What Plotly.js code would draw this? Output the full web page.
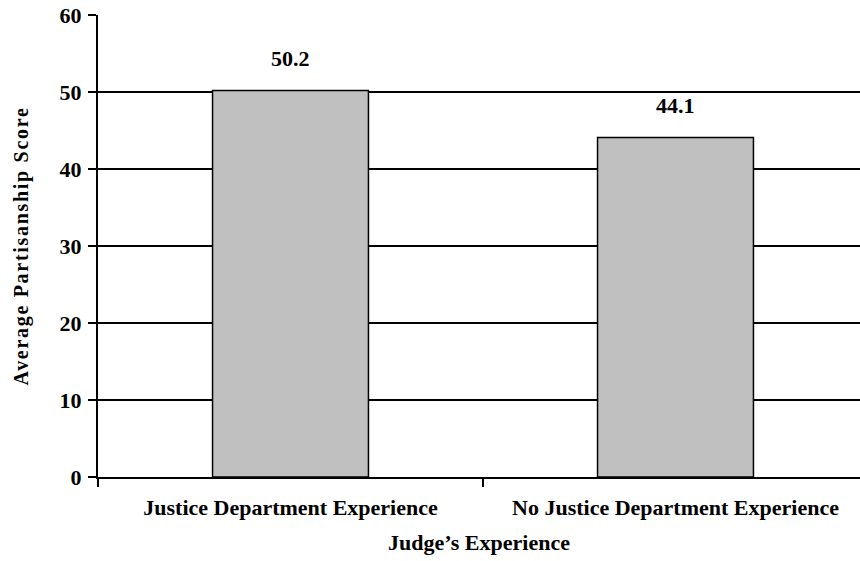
<!DOCTYPE html>
<html>
<head>
<meta charset="utf-8">
<script src="https://cdn.plot.ly/plotly-3.0.1.min.js"></script>
<style>html,body{margin:0;padding:0;background:#fff;}#chart{width:860px;height:561px;}
#chart .ytitle{letter-spacing:1.7px;}</style>
</head>
<body>
<div id="chart"></div>
<script>
const categories = ["Justice Department Experience", "No Justice Department Experience"];
const values = [50.2, 44.1];
const valueLabels = ["50.2", "44.1"];
const yTicks = [0, 10, 20, 30, 40, 50, 60];

const fam = "Liberation Serif, 'Times New Roman', serif";
const font = {family: fam, size: 22, color: "#000", weight: "bold"};

const trace = {
  type: "bar",
  x: categories,
  y: values,
  width: 0.405,
  marker: {color: "#c0c0c0", line: {color: "#000", width: 1.5}},
  hoverinfo: "none"
};

const annotations = categories.map((c, i) => ({
  x: c, y: values[i], xref: "x", yref: "y",
  text: valueLabels[i], showarrow: false, yshift: 32,
  font: font
}));

const layout = {
  width: 860, height: 561,
  margin: {l: 98, r: 0, t: 15, b: 84},
  paper_bgcolor: "#fff", plot_bgcolor: "#fff",
  font: font,
  showlegend: false,
  bargap: 0,
  xaxis: {
    type: "category",
    range: [-0.5, -0.5 + 762 / 385],
    tickson: "boundaries",
    ticks: "outside", ticklen: 8, tickwidth: 2, tickcolor: "#000",
    showline: true, linecolor: "#000", linewidth: 2,
    showgrid: false, zeroline: false,
    tickfont: font,
    ticklabelstandoff: 10,
    title: {text: "Judge’s Experience", font: font, standoff: 15}
  },
  yaxis: {
    range: [0, 60],
    tickvals: yTicks,
    ticks: "outside", ticklen: 8, tickwidth: 2, tickcolor: "#000",
    showline: true, linecolor: "#000", linewidth: 2,
    showgrid: true, gridcolor: "#000", gridwidth: 2,
    zeroline: false,
    tickfont: font,
    ticklabelstandoff: 2,
    title: {text: "Average Partisanship Score", font: {family: fam, size: 20, color: "#000", weight: "bold"}, standoff: 26}
  },
  annotations: annotations
};

Plotly.newPlot("chart", [trace], layout, {displayModeBar: false, staticPlot: true});
</script>
</body>
</html>
